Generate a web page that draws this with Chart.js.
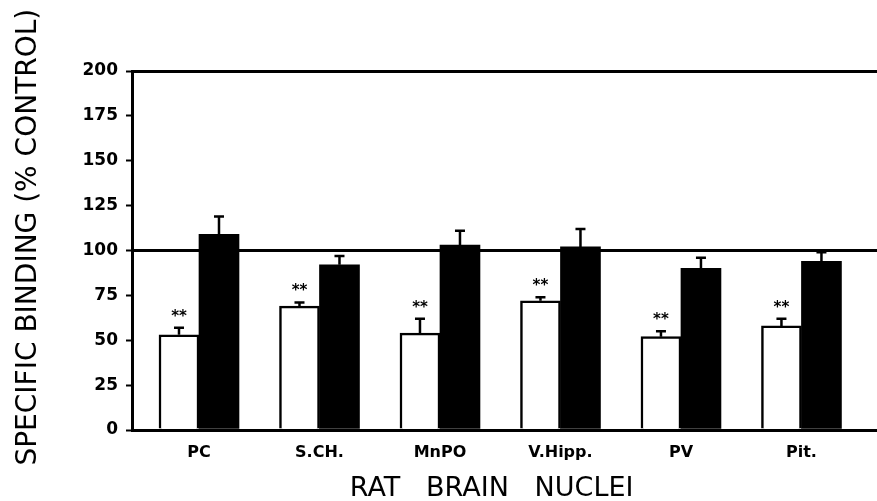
<!DOCTYPE html>
<html>
<head>
<meta charset="utf-8">
<script src="https://cdn.jsdelivr.net/npm/chart.js@4/dist/chart.umd.min.js"></script>
<style>
  body { margin: 0; background: #fff; }
  #wrap { width: 877px; height: 501px; }
</style>
</head>
<body>
<div id="wrap"><canvas id="chart"></canvas></div>
<script>
// Specific binding by rat brain nucleus
const nuclei = ["PC", "S.CH.", "MnPO", "V.Hipp.", "PV", "Pit."];
const openBars = [53, 69, 54, 72, 52, 58];
const openErr = [4, 2, 8, 2, 3, 4];
const filledBars = [109, 92, 103, 102, 90, 94];
const filledErr = [10, 5, 8, 10, 6, 5];
const yTicks = [0, 25, 50, 75, 100, 125, 150, 175, 200];

// one-sided error bars, plus ** over the open bars
const errorBars = {
  id: 'errorBars',
  afterDatasetsDraw(chart) {
    const ctx = chart.ctx;
    const y = chart.scales.y;
    const errs = [openErr, filledErr];
    ctx.save();
    ctx.strokeStyle = '#000';
    ctx.fillStyle = '#000';
    ctx.lineWidth = 2.5;
    chart.data.datasets.forEach((ds, d) => {
      chart.getDatasetMeta(d).data.forEach((bar, i) => {
        const top = y.getPixelForValue(ds.data[i].y + errs[d][i]);
        ctx.beginPath();
        ctx.moveTo(bar.x, bar.y);
        ctx.lineTo(bar.x, top);
        ctx.moveTo(bar.x - 5, top);
        ctx.lineTo(bar.x + 5, top);
        ctx.stroke();
        if (d === 0) {
          ctx.font = 'bold 15px "DejaVu Sans"';
          ctx.textAlign = 'center';
          ctx.textBaseline = 'middle';
          ctx.fillText('**', bar.x, top - 11);
        }
      });
    });
    ctx.restore();
  }
};

const data = {
  datasets: [{
    data: nuclei.map((n, i) => ({x: i, y: openBars[i]})),
    backgroundColor: '#fff',
    borderColor: '#000',
    borderWidth: 2.5,
    borderSkipped: 'bottom'
  }, {
    data: nuclei.map((n, i) => ({x: i, y: filledBars[i]})),
    backgroundColor: '#000',
    borderWidth: 0
  }]
};

const config = {
  type: 'bar',
  data,
  options: {
    responsive: true,
    maintainAspectRatio: false,
    animation: false,
    barThickness: 40,
    layout: { padding: { top: 71, left: 0, right: 0, bottom: 0 } },
    plugins: {
      legend: { display: false },
      tooltip: { enabled: false }
    },
    scales: {
      x: {
        type: 'linear',
        offset: false,
        min: -0.556,
        max: 5.627,
        afterFit: s => { s.height = 71; },
        afterBuildTicks: s => { s.ticks = nuclei.map((n, i) => ({value: i})); },
        grid: { color: 'rgba(0,0,0,0)', drawTicks: false, offset: false },
        border: { color: '#000', width: 3 },
        ticks: {
          autoSkip: false,
          maxRotation: 0,
          padding: 13,
          color: '#000',
          font: { family: 'DejaVu Sans', size: 16, weight: 'bold' },
          callback: v => nuclei[v]
        },
        title: {
          display: true,
          text: 'RAT   BRAIN   NUCLEI   ',
          color: '#000',
          font: { family: 'DejaVu Sans', size: 27, lineHeight: 0.9 },
          padding: 0
        }
      },
      y: {
        min: 0,
        max: 200,
        afterFit: s => { s.width = 132; },
        afterBuildTicks: s => { s.ticks = yTicks.map(v => ({value: v})); },
        grid: {
          color: c => (c.tick && (c.tick.value === 100 || c.tick.value === 200)) ? '#000' : 'rgba(0,0,0,0)',
          lineWidth: 3,
          tickColor: '#000',
          tickWidth: 2,
          tickLength: 6
        },
        border: { color: '#000', width: 3 },
        ticks: {
          padding: 8,
          color: '#000',
          font: { family: 'DejaVu Sans', size: 17, weight: 'bold' }
        },
        title: {
          display: true,
          text: '   SPECIFIC BINDING (% CONTROL)',
          color: '#000',
          font: { family: 'DejaVu Sans', size: 28 },
          padding: { top: 12, bottom: 0 }
        }
      }
    }
  },
  plugins: [errorBars]
};

const myChart = new Chart('chart', config);
</script>
</body>
</html>
